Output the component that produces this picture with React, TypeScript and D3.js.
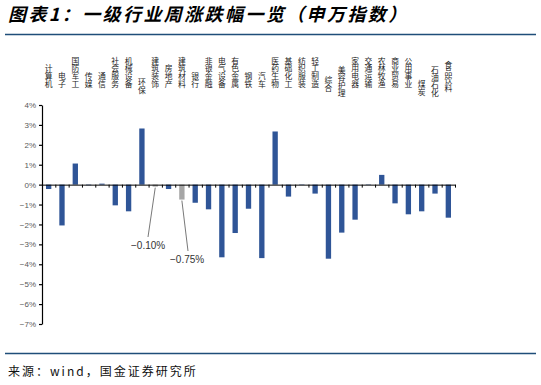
import { useEffect, useRef } from 'react';
import * as d3 from 'd3';

const categories = [
  '计算机', '电子', '国防军工', '传媒', '通信', '社会服务', '机械设备', '环保',
  '建筑装饰', '房地产', '建筑材料', '银行', '非银金融', '电气设备', '有色金属', '钢铁',
  '汽车', '医药生物', '基础化工', '纺织服装', '轻工制造', '综合', '美容护理', '家用电器',
  '交通运输', '农林牧渔', '商业贸易', '公用事业', '煤炭', '石油石化', '食品饮料',
];
const weeklyChange = [
  -0.22, -2.05, 1.06, -0.03, 0.05, -1.04, -1.34, 2.82,
  -0.10, -0.22, -0.75, -0.91, -1.24, -3.65, -2.43, -1.21,
  -3.69, 2.67, -0.6, -0.02, -0.45, -3.72, -2.41, -1.76,
  -0.02, 0.49, -0.94, -1.49, -1.34, -0.45, -1.66,
];
const highlighted = ['建筑装饰', '建筑材料'];
const yTicks = [-7, -6, -5, -4, -3, -2, -1, 0, 1, 2, 3, 4];

const TITLE = '图表1：一级行业周涨跌幅一览（申万指数）';
const SOURCE = '来源：wind，国金证券研究所';

const W = 541;
const H = 385;
const M = { left: 42, right: 86, top: 105, bottom: 61 };
const BLUE = '#2f5597';
const GREY = '#a6a6a6';
const RULE = '#1f4e79';
const CJK = '"Noto Sans CJK SC", "Noto Sans", sans-serif';
const LATIN = '"Liberation Sans", Arial, sans-serif';

// some labels sit lower in the original layout
const labelDrop: Record<string, number> = {
  '环保': 6, '综合': 4, '美容护理': 9, '煤炭': 8, '石油石化': 9, '食品饮料': 4,
};

export default function App() {
  const xAxisRef = useRef<SVGGElement>(null);
  const yAxisRef = useRef<SVGGElement>(null);

  const x = d3.scaleBand<string>()
    .domain(categories)
    .range([M.left, W - M.right])
    .paddingInner(0.6)
    .paddingOuter(0.3);
  const xEdge = d3.scaleLinear().domain([0, categories.length]).range([M.left, W - M.right]);
  const y = d3.scaleLinear().domain([-7, 4]).range([H - M.bottom, M.top]);

  useEffect(() => {
    if (!xAxisRef.current || !yAxisRef.current) return;
    const gx = d3.select(xAxisRef.current);
    gx.selectAll('*').remove();
    gx.call(d3.axisBottom(xEdge).tickValues(d3.range(categories.length + 1))
      .tickSize(3).tickSizeOuter(0).tickFormat(() => ''));
    gx.selectAll('path, line').style('stroke', '#000').style('stroke-width', 1);

    const gy = d3.select(yAxisRef.current);
    gy.selectAll('*').remove();
    gy.call(d3.axisLeft(y).tickValues(yTicks).tickSize(3).tickSizeOuter(0)
      .tickFormat(d => `${+d < 0 ? '−' + Math.abs(+d) : d}%`));
    gy.selectAll('path, line').style('stroke', '#000').style('stroke-width', 1.2);
    gy.selectAll('text').style('fill', '#595959').style('font-size', '8px')
      .style('font-family', LATIN);
  }, []);

  const cx = (c: string) => (x(c) ?? 0) + x.bandwidth() / 2;
  const ann = [
    { name: '建筑装饰', tx: 148, ty: 237, lx: 131, ly: 249, text: '−0.10%' },
    { name: '建筑材料', tx: 188, ty: 251, lx: 170, ly: 263, text: '−0.75%' },
  ];

  return (
    <div style={{ position: 'absolute', left: 0, top: 0 }}>
      <svg width={W} height={H} style={{ display: 'block', background: '#fff' }}>
        <text x={8} y={21} style={{ fontFamily: CJK, fontSize: 18, fontWeight: 700, fontStyle: 'italic', letterSpacing: 2.4 }}>
          {TITLE}
        </text>
        <line x1={5} x2={536} y1={34.5} y2={34.5} stroke={RULE} strokeWidth={1.5} />

        {categories.map(c => (
          <text key={c} x={cx(c)} y={88 + (labelDrop[c] ?? 0)} textAnchor="end" fill="#222"
            style={{ fontFamily: CJK, fontSize: 7.8, writingMode: 'vertical-rl', textOrientation: 'upright' } as any}>
            {c}
          </text>
        ))}

        {categories.map((c, i) => {
          const v = weeklyChange[i];
          return (
            <rect key={c} x={x(c)} width={x.bandwidth()}
              y={y(Math.max(0, v))} height={Math.abs(y(v) - y(0))}
              fill={highlighted.includes(c) ? GREY : BLUE} />
          );
        })}

        <g ref={xAxisRef} transform={`translate(0,${y(0)})`} />
        <g ref={yAxisRef} transform={`translate(${M.left},0)`} />

        {ann.map(a => {
          const v = weeklyChange[categories.indexOf(a.name)];
          return (
            <g key={a.name}>
              <line x1={cx(a.name)} y1={y(v) + 1} x2={a.tx} y2={a.ty} stroke="#555" strokeWidth={0.8} />
              <text x={a.lx} y={a.ly} fill="#333" style={{ fontFamily: LATIN, fontSize: 10 }}>
                {a.text}
              </text>
            </g>
          );
        })}

        <line x1={5} x2={536} y1={353.5} y2={353.5} stroke={RULE} strokeWidth={1.5} />
        <text x={8} y={376} fill="#111" style={{ fontFamily: CJK, fontSize: 12, letterSpacing: 2 }}>
          {SOURCE}
        </text>
      </svg>
    </div>
  );
}
